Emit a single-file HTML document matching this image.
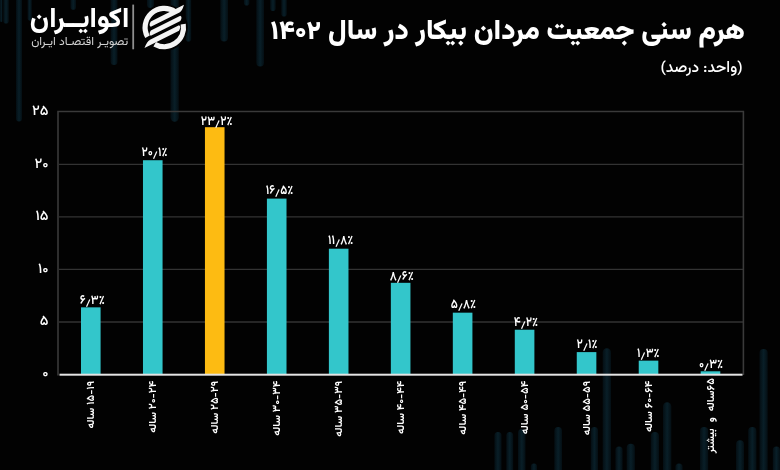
<!DOCTYPE html>
<html lang="fa"><head><meta charset="utf-8"><title>هرم سنی جمعیت مردان بیکار در سال ۱۴۰۲</title>
<style>
html,body{margin:0;padding:0;background:#020202;}
body{width:780px;height:470px;overflow:hidden;position:relative;}
svg{position:absolute;left:0;top:0;display:block;will-change:transform;}
.fa{font-family:"Vazirmatn","DejaVu Sans","Noto Sans CJK SC",sans-serif;}
</style></head><body>
<svg width="780" height="470" viewBox="0 0 780 470">
<rect x="0" y="0" width="780" height="470" fill="#020202"/>
<defs><linearGradient id="bg" x1="0" x2="1" y1="0" y2="0"><stop offset="0" stop-color="#040e13"/><stop offset="0.5" stop-color="#091f28"/><stop offset="1" stop-color="#040e13"/></linearGradient></defs>
<g fill="url(#bg)">
<rect x="0" y="-10" width="2.5" height="32.0" rx="1.2"/>
<rect x="3.3" y="-10" width="5.5" height="33.5" rx="2.8"/>
<rect x="16" y="-10" width="6" height="131.6" rx="3.0"/>
<rect x="27.6" y="-10" width="4.2" height="30.7" rx="2.1"/>
<rect x="70.5" y="-10" width="5.5" height="19.7" rx="2.8"/>
<rect x="110.6" y="-10" width="6.9" height="75.0" rx="3.5"/>
<rect x="147" y="-10" width="7" height="18.0" rx="3.5"/>
<rect x="170.5" y="-10" width="8.3" height="131.8" rx="4.2"/>
<rect x="185.7" y="-10" width="5.5" height="51.5" rx="2.8"/>
<rect x="220.3" y="-10" width="7.7" height="51.5" rx="3.9"/>
<rect x="243.9" y="-10" width="5.5" height="15.5" rx="2.8"/>
<rect x="256.3" y="-10" width="7.7" height="76.5" rx="3.9"/>
<rect x="270.2" y="-10" width="5.5" height="21.0" rx="2.8"/>
<rect x="281.3" y="-10" width="5.5" height="26.6" rx="2.8"/>
<rect x="494.4" y="432" width="7.1" height="48.0" rx="3.5"/>
<rect x="506.3" y="432" width="6.9" height="48.0" rx="3.5"/>
<rect x="518" y="429" width="7.5" height="51.0" rx="3.8"/>
<rect x="530.9" y="463.4" width="6.1" height="16.6" rx="3.0"/>
<rect x="554.3" y="427" width="7.7" height="53.0" rx="3.9"/>
<rect x="590.8" y="427" width="7.2" height="53.0" rx="3.6"/>
<rect x="602.7" y="348.3" width="8.3" height="131.7" rx="4.2"/>
<rect x="615.4" y="446.4" width="7.2" height="33.6" rx="3.6"/>
<rect x="626.7" y="443.7" width="8.2" height="36.3" rx="4.1"/>
<rect x="650.8" y="432" width="8.2" height="48.0" rx="4.1"/>
<rect x="663" y="402.3" width="8.3" height="77.7" rx="4.2"/>
<rect x="675.4" y="463.4" width="7.2" height="16.6" rx="3.6"/>
<rect x="700" y="427" width="8.2" height="53.0" rx="4.1"/>
<rect x="736" y="440.3" width="8" height="39.7" rx="4.0"/>
<rect x="748.2" y="427" width="8.2" height="53.0" rx="4.1"/>
<rect x="759.5" y="349" width="8.2" height="131.0" rx="4.1"/>
<rect x="772.8" y="446.4" width="7.2" height="33.6" rx="3.6"/>
</g>
<g stroke="#333" stroke-width="1.3">
<line x1="59" x2="743" y1="322.0" y2="322.0"/>
<line x1="59" x2="743" y1="269.4" y2="269.4"/>
<line x1="59" x2="743" y1="216.9" y2="216.9"/>
<line x1="59" x2="743" y1="164.4" y2="164.4"/>
</g>
<path d="M58 375.5 V111.5 H743.4 V375" fill="none" stroke="#3a3a3a" stroke-width="1.6"/>
<rect x="81.00" y="307.34" width="19.6" height="67.16" fill="#33c6cb"/>
<rect x="142.97" y="160.23" width="19.6" height="214.27" fill="#33c6cb"/>
<rect x="204.94" y="127.19" width="19.6" height="247.31" fill="#fdbb12"/>
<rect x="266.91" y="198.61" width="19.6" height="175.89" fill="#33c6cb"/>
<rect x="328.88" y="248.71" width="19.6" height="125.79" fill="#33c6cb"/>
<rect x="390.85" y="282.82" width="19.6" height="91.68" fill="#33c6cb"/>
<rect x="452.82" y="312.67" width="19.6" height="61.83" fill="#33c6cb"/>
<rect x="514.79" y="329.73" width="19.6" height="44.77" fill="#33c6cb"/>
<rect x="576.76" y="352.11" width="19.6" height="22.39" fill="#33c6cb"/>
<rect x="638.73" y="360.64" width="19.6" height="13.86" fill="#33c6cb"/>
<rect x="700.70" y="371.30" width="19.6" height="3.20" fill="#33c6cb"/>
<rect x="59.5" y="373.7" width="683" height="2" fill="#e4e4e4"/>
<g class="fa" fill="#fff" font-size="13" font-weight="600" text-anchor="middle">
<text transform="translate(92.30,303.70) scale(0.9,1)">۶٫۳٪</text>
<text transform="translate(154.50,155.70) scale(0.9,1)">۲۰٫۱٪</text>
<text transform="translate(216.70,124.50) scale(0.9,1)">۲۳٫۲٪</text>
<text transform="translate(279.50,194.20) scale(0.9,1)">۱۶٫۵٪</text>
<text transform="translate(340.70,244.40) scale(0.9,1)">۱۱٫۸٪</text>
<text transform="translate(401.70,280.00) scale(0.9,1)">۸٫۶٪</text>
<text transform="translate(463.50,308.40) scale(0.9,1)">۵٫۸٪</text>
<text transform="translate(526.00,325.70) scale(0.9,1)">۴٫۲٪</text>
<text transform="translate(587.10,348.00) scale(0.9,1)">۲٫۱٪</text>
<text transform="translate(648.30,357.20) scale(0.9,1)">۱٫۳٪</text>
<text transform="translate(711.00,367.70) scale(0.9,1)">۰٫۳٪</text>
</g>
<g class="fa" fill="#fff" font-size="14.5" font-weight="500" text-anchor="end">
<text x="48.5" y="376.9">۰</text>
<text x="48.5" y="325.4">۵</text>
<text x="48.5" y="272.8">۱۰</text>
<text x="48.5" y="220.3">۱۵</text>
<text x="48.5" y="167.8">۲۰</text>
<text x="48.5" y="115.3">۲۵</text>
</g>
<g class="fa" fill="#fff" font-size="11" font-weight="600">
<text transform="translate(94.40,380.8) rotate(-90)" direction="rtl" text-anchor="start" textLength="47.7" lengthAdjust="spacingAndGlyphs">۱۵-۱۹ ساله</text>
<text transform="translate(156.37,380.8) rotate(-90)" direction="rtl" text-anchor="start" textLength="52.03" lengthAdjust="spacingAndGlyphs">۲۰-۲۴ ساله</text>
<text transform="translate(218.34,380.8) rotate(-90)" direction="rtl" text-anchor="start" textLength="52.86" lengthAdjust="spacingAndGlyphs">۲۵-۲۹ ساله</text>
<text transform="translate(280.31,380.8) rotate(-90)" direction="rtl" text-anchor="start" textLength="55" lengthAdjust="spacingAndGlyphs">۳۰-۳۴ ساله</text>
<text transform="translate(342.28,380.8) rotate(-90)" direction="rtl" text-anchor="start" textLength="55.84" lengthAdjust="spacingAndGlyphs">۳۵-۳۹ ساله</text>
<text transform="translate(404.25,380.8) rotate(-90)" direction="rtl" text-anchor="start" textLength="53.08" lengthAdjust="spacingAndGlyphs">۴۰-۴۴ ساله</text>
<text transform="translate(466.22,380.8) rotate(-90)" direction="rtl" text-anchor="start" textLength="53.92" lengthAdjust="spacingAndGlyphs">۴۵-۴۹ ساله</text>
<text transform="translate(528.19,380.8) rotate(-90)" direction="rtl" text-anchor="start" textLength="53.48" lengthAdjust="spacingAndGlyphs">۵۰-۵۴ ساله</text>
<text transform="translate(590.16,380.8) rotate(-90)" direction="rtl" text-anchor="start" textLength="54.33" lengthAdjust="spacingAndGlyphs">۵۵-۵۹ ساله</text>
<text transform="translate(652.13,380.8) rotate(-90)" direction="rtl" text-anchor="start" textLength="51.22" lengthAdjust="spacingAndGlyphs">۶۰-۶۴ ساله</text>
<text transform="translate(714.10,378.2) rotate(-90)" direction="rtl" text-anchor="start" word-spacing="3.2" textLength="75.02" lengthAdjust="spacingAndGlyphs">۶۵ساله و بیشتر</text>
</g>
<text class="fa" x="745" y="38.5" fill="#fff" font-size="28" font-weight="900" direction="rtl" text-anchor="start" textLength="474.42" lengthAdjust="spacingAndGlyphs">هرم سنی جمعیت مردان بیکار در سال <tspan font-size="26.3">۱۴۰۲</tspan></text>
<text class="fa" x="742.6" y="71.9" fill="#fff" font-size="15.5" font-weight="500" direction="rtl" text-anchor="start" textLength="82.11" lengthAdjust="spacingAndGlyphs">(واحد: درصد)</text>
<line x1="133.2" y1="4.6" x2="133.2" y2="49.3" stroke="#8e8e8e" stroke-width="1.8"/>
<text class="fa" x="129.2" y="27" fill="#fff" font-size="27.5" font-weight="800" direction="rtl" text-anchor="start" textLength="99.33" lengthAdjust="spacingAndGlyphs">اکوایــران</text>
<text class="fa" x="128.3" y="45.3" fill="#d4d4d4" font-size="12" font-weight="400" direction="rtl" text-anchor="start" textLength="97.11" lengthAdjust="spacingAndGlyphs">تصویـر اقتصـاد ایـران</text>
<circle cx="164.3" cy="27.5" r="23.5" fill="#020202"/>
<g fill="none" stroke="#f4f4f4" stroke-width="5.2" stroke-linecap="butt">
<path d="M147.51,36.81 A19.2,19.2 0 0 1 175.04,11.58"/>
<path d="M183.21,24.17 A19.2,19.2 0 0 1 154.70,44.13"/>
</g>
<g fill="#f4f4f4">
<path d="M150.80,21.45 L180.50,6.60 L184.00,4.85 Q182.00,11.60 179.50,12.40 L150.80,26.75 Q148.40,25.30 150.80,21.45 Z"/>
<path d="M150.80,30.45 L180.30,15.70 Q182.70,17.15 180.30,21.00 L150.80,35.75 Q148.40,34.30 150.80,30.45 Z"/>
<path d="M149.00,40.35 L179.00,25.35 Q181.40,26.80 179.00,30.65 L149.00,45.65 L144.50,47.90 Q147.50,40.65 150.00,40.05 Z"/>
</g>
</svg>
</body></html>
